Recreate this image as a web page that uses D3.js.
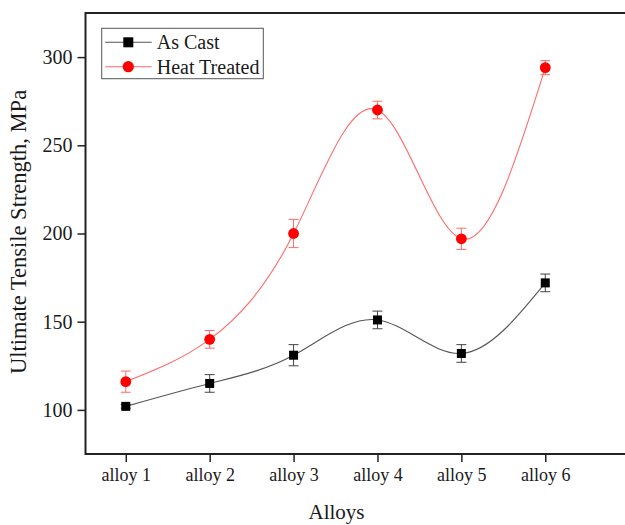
<!DOCTYPE html>
<html>
<head>
<meta charset="utf-8">
<script src="https://cdn.jsdelivr.net/npm/d3@7"></script>
<style>
  body { margin: 0; background: #fff; }
  text { font-family: "Liberation Serif", "Times New Roman", serif; fill: #1a1a1a; }
</style>
</head>
<body>
<script>
// data
var alloys = ['alloy 1', 'alloy 2', 'alloy 3', 'alloy 4', 'alloy 5', 'alloy 6'];
var asCast = [102, 115, 131, 151, 132, 172];
var asCastErr = [1, 5, 6, 5, 5, 5];
var heatTreated = [116, 140, 200, 270, 197, 294];
var heatTreatedErr = [6, 5, 8, 5, 6, 4];
var yTicks = [100, 150, 200, 250, 300];

var width = 625,
    height = 525,
    margin = {top: 13, bottom: 71, left: 85.5};

var svg = d3.select('body').append('svg')
    .attr('width', width)
    .attr('height', height);

var step = 83.9,
    innerW = 6.48 * step,
    innerH = height - margin.top - margin.bottom;

var x = d3.scaleLinear().domain([0.52, 7]).range([0, innerW]);
var y = d3.scaleLinear().domain([75, 325]).range([innerH, 0]);

var g = svg.append('g')
    .attr('transform', 'translate(' + margin.left + ',' + margin.top + ')');

var series = [
  {name: 'As Cast', values: asCast, err: asCastErr, line: '#555555', bar: '#444444', fill: '#000000', shape: 'square'},
  {name: 'Heat Treated', values: heatTreated, err: heatTreatedErr, line: '#ff6a6a', bar: '#ff6a6a', fill: '#ff0000', shape: 'circle'}
];

//------------------------------------------------------------
// Axes

var yAxis = d3.axisLeft(y).tickValues(yTicks).tickSize(8).tickPadding(5);
var xAxis = d3.axisBottom(x).tickValues(d3.range(1, 7)).tickSize(8).tickPadding(6)
    .tickFormat(function(d) { return alloys[d - 1]; });

var gy = g.append('g').call(yAxis).attr('font-family', null);
gy.selectAll('text').style('font-size', '20px');
var gx = g.append('g').attr('transform', 'translate(0,' + innerH + ')').call(xAxis).attr('font-family', null);
gx.selectAll('text').style('font-size', '18px');

g.selectAll('.domain').remove();
g.selectAll('.tick line').attr('stroke', '#222').attr('stroke-width', 1.5);

// frame (right side falls off the picture)
g.append('path')
    .attr('d', 'M' + innerW + ',0H0V' + innerH + 'H' + innerW)
    .attr('fill', 'none')
    .attr('stroke', '#222')
    .attr('stroke-width', 2);

//------------------------------------------------------------
// Lines, error bars, markers

var line = d3.line()
    .curve(d3.curveNatural)
    .x(function(d, i) { return x(i + 1); })
    .y(function(d) { return y(d); });

series.forEach(function(s) {
  var sg = g.append('g');

  sg.append('path')
    .attr('d', line(s.values))
    .attr('fill', 'none')
    .attr('stroke', s.line)
    .attr('stroke-width', 1.1);

  var bars = sg.selectAll('g.err').data(s.values).enter().append('g');
  bars.append('path')
    .attr('d', function(d, i) {
      var cx = x(i + 1), y0 = y(d - s.err[i]), y1 = y(d + s.err[i]);
      return 'M' + cx + ',' + y0 + 'V' + y1 +
             'M' + (cx - 5) + ',' + y0 + 'H' + (cx + 5) +
             'M' + (cx - 5) + ',' + y1 + 'H' + (cx + 5);
    })
    .attr('fill', 'none')
    .attr('stroke', s.bar)
    .attr('stroke-width', 1);

  if (s.shape === 'square') {
    sg.selectAll('rect').data(s.values).enter().append('rect')
      .attr('x', function(d, i) { return x(i + 1) - 4.5; })
      .attr('y', function(d) { return y(d) - 4.5; })
      .attr('width', 9).attr('height', 9)
      .attr('fill', s.fill);
  } else {
    sg.selectAll('circle').data(s.values).enter().append('circle')
      .attr('cx', function(d, i) { return x(i + 1); })
      .attr('cy', function(d) { return y(d); })
      .attr('r', 5.4)
      .attr('fill', s.fill);
  }
});

//------------------------------------------------------------
// Axis titles

svg.append('text')
    .attr('x', margin.left + x(3.5) + 1)
    .attr('y', 519)
    .attr('text-anchor', 'middle')
    .style('font-size', '21px')
    .text('Alloys');

svg.append('text')
    .attr('transform', 'translate(25.5,232) rotate(-90)')
    .attr('text-anchor', 'middle')
    .style('font-size', '22.5px')
    .text('Ultimate Tensile Strength, MPa');

//------------------------------------------------------------
// Legend

var legend = svg.append('g').attr('transform', 'translate(101.7,28.3)');
legend.append('rect')
    .attr('width', 161.6).attr('height', 50.4)
    .attr('fill', '#fff')
    .attr('stroke', '#555')
    .attr('stroke-width', 1);

series.forEach(function(s, i) {
  var row = legend.append('g').attr('transform', 'translate(0,' + (14 + i * 24.4) + ')');
  row.append('line')
    .attr('x1', 3.5).attr('x2', 50)
    .attr('stroke', s.line).attr('stroke-width', 1.1);
  if (s.shape === 'square') {
    row.append('rect').attr('x', 21.6).attr('y', -5).attr('width', 10).attr('height', 10).attr('fill', s.fill);
  } else {
    row.append('circle').attr('cx', 26.6).attr('r', 5.6).attr('fill', s.fill);
  }
  row.append('text')
    .attr('x', 55)
    .attr('y', 7)
    .style('font-size', '20px')
    .text(s.name);
});
</script>
</body>
</html>
